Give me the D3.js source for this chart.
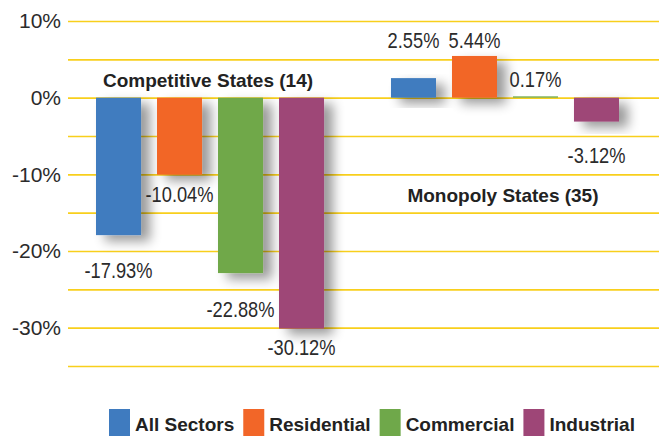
<!DOCTYPE html>
<html>
<head>
<meta charset="utf-8">
<script src="https://cdn.jsdelivr.net/npm/d3@7"></script>
<style>
  body { margin: 0; background: #fff; }
  svg { display: block; }
  .tick text { font-family: "Liberation Sans", Arial, sans-serif; font-size: 21px; fill: #2b2b2b; }
  .val { font-family: "Liberation Sans", Arial, sans-serif; font-size: 22px; fill: #2b2b2b; }
  .title, .legend text { font-family: "Liberation Sans", Arial, sans-serif; font-size: 19px; font-weight: bold; fill: #222; }
</style>
</head>
<body>
<svg id="chart"></svg>
<script>
// data
var groups = ["Competitive States (14)", "Monopoly States (35)"]
var series = ["All Sectors", "Residential", "Commercial", "Industrial"]
var allSectors = [-17.93, 2.55]
var residential = [-10.04, 5.44]
var commercial = [-22.88, 0.17]
var industrial = [-30.12, -3.12]
var yTicks = [10, 5, 0, -5, -10, -15, -20, -25, -30, -35]

var colors = ["#3f7bbf", "#f26628", "#6fa84a", "#9e4677"]
var values = [allSectors, residential, commercial, industrial]

var W = 659, H = 436
var svg = d3.select("#chart").attr("width", W).attr("height", H)

var y = d3.scaleLinear().domain([-35, 10]).range([366, 21])
var x0 = d3.scaleBand().domain(groups).range([96, 619]).paddingInner(0.227)
var x1 = d3.scaleBand().domain(series).range([0, x0.bandwidth()]).paddingInner(0.262)

// shadow filter
var f = svg.append("defs").append("filter").attr("id", "shadow")
  .attr("x", "-50%").attr("y", "-50%").attr("width", "200%").attr("height", "200%")
f.append("feGaussianBlur").attr("in", "SourceAlpha").attr("stdDeviation", 6).attr("result", "b")
f.append("feOffset").attr("in", "b").attr("dx", 9).attr("dy", 6).attr("result", "o")
f.append("feComponentTransfer").attr("in", "o").attr("result", "s")
  .append("feFuncA").attr("type", "linear").attr("slope", 0.4)
var m = f.append("feMerge")
m.append("feMergeNode").attr("in", "s")
m.append("feMergeNode").attr("in", "SourceGraphic")

// gridlines + tick labels
var axis = svg.append("g").attr("transform", "translate(68,0)")
  .call(d3.axisLeft(y).tickValues(yTicks).tickSize(-(W - 68)).tickPadding(7)
    .tickFormat(d => d % 10 == 0 ? d + "%" : ""))
axis.select(".domain").remove()
axis.selectAll(".tick line").attr("stroke", "#f8cf1c").attr("stroke-width", 1.6)

// bars
var bars = []
groups.forEach((g, gi) => {
  series.forEach((s, si) => {
    bars.push({ group: g, series: s, value: values[si][gi], color: colors[si] })
  })
})

svg.append("g").selectAll("rect").data(bars).enter().append("rect")
  .attr("x", d => x0(d.group) + x1(d.series))
  .attr("y", d => y(Math.max(0, d.value)))
  .attr("width", x1.bandwidth())
  .attr("height", d => Math.abs(y(d.value) - y(0)))
  .attr("fill", d => d.color)
  .attr("filter", "url(#shadow)")

// value labels: centred in the first grid band clear of the bar end
function labelAt(v) {
  var k = Math.max(0, Math.ceil((Math.abs(v) - 0.5) / 5))
  return (v < 0 ? -1 : 1) * (k * 5 + 2.5)
}
svg.append("g").selectAll("text").data(bars).enter().append("text")
  .attr("class", "val")
  .attr("text-anchor", "middle")
  .attr("transform", d => "translate(" + (x0(d.group) + x1(d.series) + x1.bandwidth() / 2) + "," + (y(labelAt(d.value)) + 8) + ") scale(0.83,1)")
  .text(d => d.value.toFixed(2) + "%")

// group titles
var titleAt = [2.5, -12.5]
svg.append("g").selectAll("text").data(groups).enter().append("text")
  .attr("class", "title")
  .attr("text-anchor", "middle")
  .attr("x", d => x0(d) + x0.bandwidth() / 2 - 2)
  .attr("y", (d, i) => y(titleAt[i]) + 8)
  .text(d => d)

// legend
var lg = svg.append("g").attr("class", "legend")
var lx = 109
series.forEach((s, i) => {
  lg.append("rect").attr("x", lx).attr("y", 409).attr("width", 21).attr("height", 28).attr("fill", colors[i])
  var t = lg.append("text").attr("x", lx + 26).attr("y", 431).text(s)
  lx += 26 + t.node().getComputedTextLength() + 9
})
</script>
</body>
</html>
